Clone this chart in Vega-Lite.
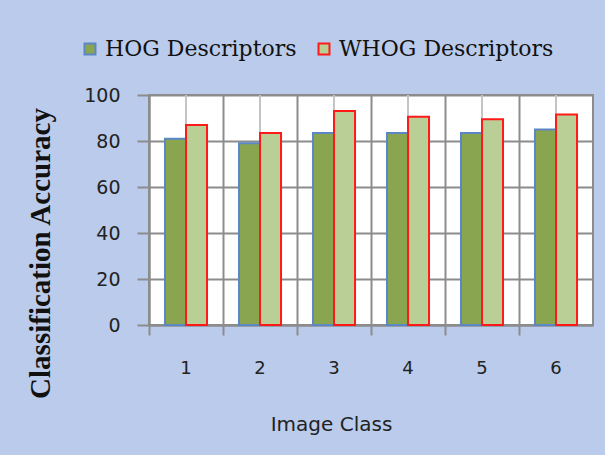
{
  "$schema": "https://vega.github.io/schema/vega-lite/v6.json",
  "width": 444,
  "height": 230,
  "autosize": {"type": "none"},
  "padding": {"left": 149, "top": 95, "right": 12, "bottom": 130},
  "background": "#BACBEB",
  "config": {
    "view": {"fill": "white", "stroke": "#8C8C8C", "strokeWidth": 2}
  },
  "data": {
    "values": [
      {"cls": "1", "series": "HOG Descriptors", "acc": 81},
      {"cls": "1", "series": "WHOG Descriptors", "acc": 87},
      {"cls": "2", "series": "HOG Descriptors", "acc": 79},
      {"cls": "2", "series": "WHOG Descriptors", "acc": 83.5},
      {"cls": "3", "series": "HOG Descriptors", "acc": 83.5},
      {"cls": "3", "series": "WHOG Descriptors", "acc": 93},
      {"cls": "4", "series": "HOG Descriptors", "acc": 83.5},
      {"cls": "4", "series": "WHOG Descriptors", "acc": 90.5},
      {"cls": "5", "series": "HOG Descriptors", "acc": 83.5},
      {"cls": "5", "series": "WHOG Descriptors", "acc": 89.5},
      {"cls": "6", "series": "HOG Descriptors", "acc": 85},
      {"cls": "6", "series": "WHOG Descriptors", "acc": 91.5}
    ]
  },
  "layer": [
    {
      "transform": [{"filter": "datum.series === 'HOG Descriptors'"}],
      "mark": {"type": "rule", "color": "#C4C4C4", "strokeWidth": 2},
      "encoding": {
        "x": {"field": "cls", "type": "nominal"}
      }
    },
    {
      "mark": {"type": "bar", "strokeWidth": 2},
      "encoding": {
        "x": {
          "field": "cls",
          "type": "nominal",
          "scale": {"paddingInner": 0, "paddingOuter": 0},
          "axis": {
            "title": "Image Class",
            "bandPosition": 0,
            "labelAngle": 0,
            "labelAlign": "center",
            "labelBound": false,
            "labelFont": "DejaVu Sans",
            "labelFontSize": 18,
            "labelColor": "#222222",
            "labelPadding": 33,
            "tickSize": 10,
            "tickColor": "#8C8C8C",
            "tickWidth": 2,
            "domainColor": "#8C8C8C",
            "domainWidth": 2,
            "grid": true,
            "gridColor": "#8C8C8C",
            "gridWidth": 2,
            "titleFont": "DejaVu Sans",
            "titleFontSize": 20,
            "titleFontWeight": 500,
            "titleColor": "#222222",
            "titleX": 182,
            "titleY": 89,
            "titleBaseline": "top"
          }
        },
        "xOffset": {
          "field": "series",
          "type": "nominal",
          "scale": {"paddingInner": 0, "paddingOuter": 0.76}
        },
        "y": {
          "field": "acc",
          "type": "quantitative",
          "scale": {"domain": [0, 100], "nice": false},
          "axis": {
            "title": "Classification Accuracy",
            "values": [0, 20, 40, 60, 80, 100],
            "labelFont": "DejaVu Sans",
            "labelFontSize": 19,
            "labelColor": "#222222",
            "labelPadding": 17,
            "tickSize": 12,
            "tickColor": "#8C8C8C",
            "tickWidth": 2,
            "domainColor": "#8C8C8C",
            "domainWidth": 2,
            "grid": true,
            "gridColor": "#8C8C8C",
            "gridWidth": 2,
            "titleFont": "Liberation Serif",
            "titleFontSize": 29,
            "titleFontWeight": "bold",
            "titleColor": "#111111",
            "titleX": -94,
            "titleY": 158,
            "titleAngle": -90,
            "titleAlign": "center",
            "titleBaseline": "bottom"
          }
        },
        "fill": {
          "field": "series",
          "type": "nominal",
          "scale": {"range": ["#8AA54F", "#BACF95"]},
          "legend": {
            "title": null,
            "orient": "none",
            "direction": "horizontal",
            "legendX": -70,
            "legendY": -57,
            "symbolType": "square",
            "symbolSize": 120,
            "symbolStrokeWidth": 2,
            "labelFont": "DejaVu Serif",
            "labelFontSize": 22,
            "labelLimit": 400,
            "labelColor": "#111111",
            "labelOffset": 4,
            "columnPadding": 16
          }
        },
        "stroke": {
          "field": "series",
          "type": "nominal",
          "scale": {"range": ["#5B87C5", "#FF1A1A"]},
          "legend": {
            "title": null,
            "orient": "none",
            "direction": "horizontal",
            "legendX": -70,
            "legendY": -57,
            "symbolType": "square",
            "symbolSize": 120,
            "symbolStrokeWidth": 2,
            "labelFont": "DejaVu Serif",
            "labelFontSize": 22,
            "labelLimit": 400,
            "labelColor": "#111111",
            "labelOffset": 4,
            "columnPadding": 16
          }
        }
      }
    }
  ]
}
